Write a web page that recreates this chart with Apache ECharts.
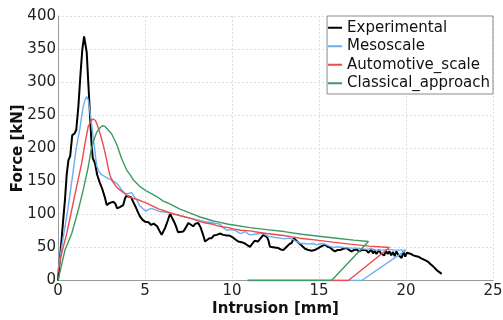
<!DOCTYPE html>
<html><head><meta charset="utf-8">
<script src="https://cdn.jsdelivr.net/npm/echarts@6/dist/echarts.min.js"></script>
<style>html,body{margin:0;padding:0;background:#fff}#c{width:503px;height:320px}</style>
</head><body><div id="c"></div>
<script>
const xTicks = [0, 5, 10, 15, 20, 25];
const yTicks = [0, 50, 100, 150, 200, 250, 300, 350, 400];
const seriesNames = ['Experimental', 'Mesoscale', 'Automotive_scale', 'Classical_approach'];

const expX = [0,0.1,0.2,0.3,0.4,0.5,0.6,0.7,0.82,0.95,1.05,1.17,1.3,1.4,1.5,1.57,1.65,1.75,1.85,1.93,2.0,2.13,2.25,2.4,2.55,2.7,2.8,2.95,3.05,3.18,3.3,3.4,3.55,3.65,3.75,3.85,3.92,4.05,4.2,4.3,4.45,4.6,4.71,4.85,5.0,5.1,5.2,5.35,5.5,5.6,5.7,5.85,5.96,6.05,6.15,6.3,6.44,6.55,6.65,6.75,6.9,7.0,7.2,7.3,7.49,7.6,7.77,7.9,8.06,8.2,8.35,8.45,8.55,8.7,8.83,8.95,9.12,9.3,9.5,9.7,9.85,10.0,10.2,10.36,10.55,10.75,10.9,11.03,11.15,11.3,11.5,11.65,11.8,11.9,12.0,12.09,12.18,12.28,12.45,12.66,12.8,12.95,13.14,13.3,13.43,13.55,13.7,13.81,13.95,14.2,14.4,14.58,14.75,14.96,15.15,15.34,15.5,15.63,15.8,15.92,16.05,16.2,16.4,16.59,16.75,16.87,17.0,17.17,17.3,17.45,17.55,17.7,17.85,18.0,18.1,18.2,18.3,18.45,18.55,18.65,18.75,18.85,18.95,19.05,19.15,19.25,19.35,19.45,19.55,19.65,19.75,19.85,19.95,20.05,20.15,20.3,20.42,20.55,20.71,20.85,21.0,21.15,21.28,21.4,21.57,21.65,21.76,21.9,22.05];
const expY = [0,30,60,92,122,160,182,188,220,222,228,263,315,350,369,368,345,295,245,205,185,177,160,148,138,125,114,117,115,119,116,109,111,108,114,124,128,127,126,120,112,103,97,92,89,91,88,84,86,84,82,74,69,74,79,90,101,95,90,84,73,74,74,78,87,84,82,86,87,80,68,59,60,64,64,68,69,71,69,68,68,66,62,59,58,56,53,51,55,60,59,64,69,71,66,61,51,49,50,49,47,46,51,55,57,64,60,57,54,48,46,45,46,49,52,54,51,50,46,44,46,46,48,49,46,44,46,47,44,46,43,46,42,47,41,45,40,46,41,44,38,45,40,44,38,43,37,44,39,42,34,44,36,42,39,40,38,37,36,34,32,30,28,25,21,19,16,13,10];

const mesoX = [0,0.21,0.4,0.59,0.75,0.88,1.02,1.15,1.26,1.35,1.45,1.55,1.65,1.74,1.84,1.97,2.09,2.22,2.35,2.5,2.7,2.9,3.08,3.2,3.37,3.5,3.66,3.8,3.95,4.1,4.23,4.35,4.52,4.7,4.9,5.05,5.2,5.35,5.5,5.67,5.85,6.05,6.25,6.44,6.65,6.82,7.01,7.3,7.49,7.68,7.97,8.16,8.45,8.7,8.93,9.15,9.31,9.5,9.69,9.9,10.17,10.3,10.46,10.6,10.75,10.9,11.03,11.3,11.6,11.8,12.05,12.28,12.5,12.76,13.0,13.3,13.52,13.7,13.91,14.15,14.39,14.65,14.87,15.1,15.34,15.6,15.82,16.1,16.4,16.78,17.1,17.4,17.74,18.0,18.3,18.7,19.0,19.3,19.6,20.0,17.45,10.9];
const mesoY = [15,51,81,112,142,167,195,215,230,247,263,273,278,273,255,228,202,174,165,160,157,154,152,150,147,143,137,133,131,132,133,128,122,113,108,105,107,109,108,106,104,104,103,102,100,100,98,96,95,94,92,91,89,88,87,86,85,80,76,77,76,74,71,72,74,71,69,70,71,71,67,66,65,64,63,64,62,59,56,56,55,56,54,56,55,52,50,51,50,49,49,48,47,48,46,46,47,46,46,46,0,0];

const autoX = [0,0.21,0.5,0.79,1.07,1.36,1.55,1.74,1.9,2.03,2.15,2.22,2.41,2.6,2.8,2.9,3.0,3.18,3.37,3.56,3.75,3.95,4.14,4.33,4.52,4.71,4.9,5.1,5.48,5.8,6.05,6.25,6.6,7.01,7.2,7.6,7.97,8.16,8.5,8.93,9.12,9.5,9.79,10.08,10.5,11.03,11.5,12.0,12.95,13.9,14.87,15.8,16.78,17.9,19.05,16.69,10.9];
const autoY = [12,41,71,107,142,177,207,233,242,244,242,238,223,205,182,168,158,148,141,137,133,129,126,124,123,121,119,117,112,108,106,104,101,98,97,94,91,89,87,85,83,81,80,78,76,75,73,71,68,64,61,58,55,52,50,0,0];

const classX = [0,0.4,0.79,1.17,1.45,1.74,1.9,2.03,2.22,2.41,2.55,2.7,2.8,3.08,3.37,3.66,3.95,4.14,4.33,4.71,5.1,5.67,6.05,6.25,7.01,7.2,7.97,8.16,8.93,9.12,9.79,10.08,11.03,12.0,13.0,14.0,15.0,16.0,17.0,17.84,15.72,10.9];
const classY = [0,46,71,107,137,172,197,210,224,231,234,233,231,222,206,184,167,160,152,142,135,127,120,118,108,106,98,96,90,89,85,84,80,77,74,70,67,64,61,59,0,0];

const colors = ['#000000', '#6aaff0', '#ee4a4a', '#3d9a62'];
const widths = [2, 1.4, 1.4, 1.4];
const xs = [expX, mesoX, autoX, classX];
const ys = [expY, mesoY, autoY, classY];

const chart = echarts.init(document.getElementById('c'), null, {renderer: 'canvas'});
const font = 'DejaVu Sans';
chart.setOption({
  animation: false,
  grid: {left: 58, right: 10, top: 16, bottom: 39.5, containLabel: false, outerBoundsMode: 'none'},
  legend: {
    orient: 'vertical', right: 10, top: 16,
    data: seriesNames,
    icon: 'rect', itemWidth: 14, itemHeight: 2, itemGap: 1,
    padding: [3, 3, 2, 1],
    borderColor: '#8a8a8a', borderWidth: 1, borderRadius: 0,
    backgroundColor: '#fff',
    textStyle: {fontFamily: font, fontSize: 15, color: '#111', lineHeight: 17.5}
  },
  xAxis: {
    type: 'value', min: xTicks[0], max: xTicks[xTicks.length - 1], interval: 5,
    name: 'Intrusion [mm]', nameLocation: 'middle', nameGap: 21, nameMoveOverlap: false,
    nameTextStyle: {fontFamily: font, fontSize: 15, fontWeight: 'bold', color: '#111'},
    axisLine: {show: true, onZero: false, lineStyle: {color: '#9a9a9a', width: 1}},
    axisTick: {show: false},
    axisLabel: {fontFamily: font, fontSize: 15, color: '#222', margin: 3},
    splitLine: {show: true, lineStyle: {color: '#dedede', type: [2, 2], width: 1}}
  },
  yAxis: {
    type: 'value', min: yTicks[0], max: yTicks[yTicks.length - 1], interval: 50,
    name: 'Force [kN]', nameLocation: 'middle', nameGap: 32, nameMoveOverlap: false,
    nameTextStyle: {fontFamily: font, fontSize: 15, fontWeight: 'bold', color: '#111'},
    axisLine: {show: true, lineStyle: {color: '#9a9a9a', width: 1}},
    axisTick: {show: false},
    axisLabel: {fontFamily: font, fontSize: 15, color: '#222', margin: 2},
    splitLine: {show: true, lineStyle: {color: '#dedede', type: [2, 2], width: 1}}
  },
  series: seriesNames.map((n, i) => ({
    name: n, type: 'line', showSymbol: false, symbol: 'none',
    color: colors[i],
    lineStyle: {color: colors[i], width: widths[i]},
    data: xs[i].map((x, k) => [x, ys[i][k]]),
    z: 2 + i
  }))
});
</script></body></html>
